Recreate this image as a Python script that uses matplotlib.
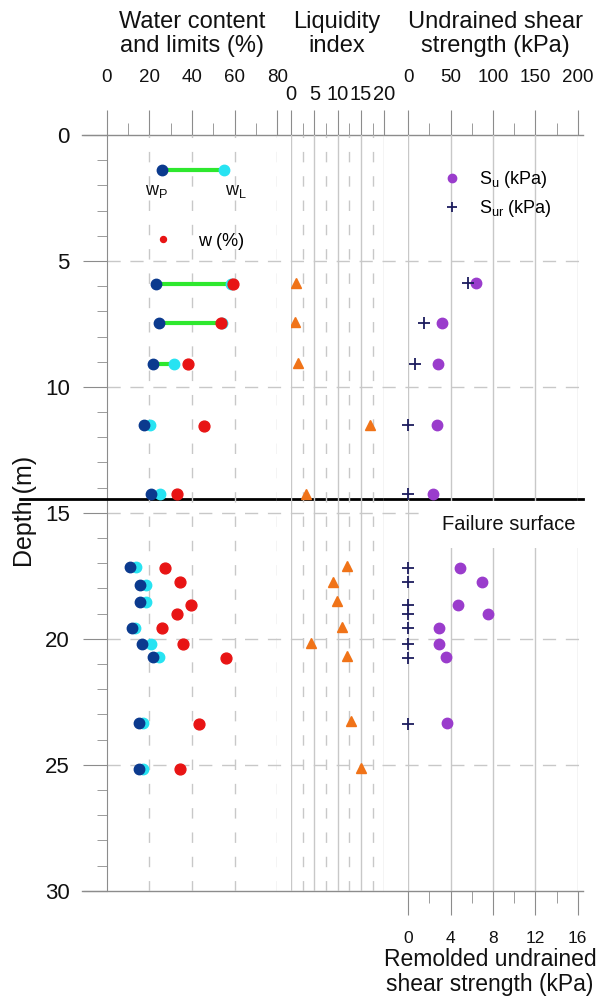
import matplotlib.pyplot as plt
import numpy as np

plt.rcParams['font.family'] = ['Liberation Sans', 'DejaVu Sans']
plt.rcParams['mathtext.fontset'] = 'custom'
plt.rcParams['mathtext.rm'] = 'Liberation Sans'
plt.rcParams['mathtext.it'] = 'Liberation Sans:italic'

# Atterberg limits (%) and their depths (m)
lim_depth = [5.9, 7.45, 9.1, 11.5, 14.25, 17.14, 17.85, 18.55, 19.56, 20.2, 20.72, 23.35, 25.18]
wp = [23.1, 24.4, 21.9, 17.6, 20.8, 10.9, 15.6, 15.6, 12.0, 16.4, 21.9, 15.0, 15.1]
wl = [58.5, 54.1, 31.6, 20.3, 25.0, 13.6, 18.3, 18.4, 13.3, 20.6, 24.7, 17.2, 17.2]

# natural water content (%)
w_depth = [5.93, 7.47, 9.1, 11.55, 14.25, 17.18, 17.76, 18.67, 19.03, 19.56, 20.21, 20.75, 23.37, 25.18]
w = [59.1, 53.5, 38.3, 45.8, 33.1, 27.3, 34.2, 39.4, 33.0, 25.8, 35.8, 55.9, 43.3, 34.4]

# liquidity index
li_depth = [5.86, 7.41, 9.06, 11.51, 14.25, 17.1, 17.74, 18.49, 19.52, 20.16, 20.68, 23.27, 25.14]
li = [1.0, 0.8, 1.6, 16.9, 3.2, 11.9, 8.9, 9.9, 10.9, 4.3, 11.9, 12.9, 14.9]

# undrained shear strength (kPa)
su_depth = [5.88, 7.45, 9.1, 11.51, 14.25, 17.18, 17.76, 18.67, 19.03, 19.56, 20.21, 20.71, 23.34]
su = [79.9, 40.1, 34.7, 34.2, 29.5, 61.0, 87.4, 59.0, 93.7, 36.6, 36.2, 44.2, 46.0]

# remolded undrained shear strength (kPa)
sur_depth = [5.88, 7.45, 9.1, 11.51, 14.25, 17.18, 17.76, 18.67, 19.03, 19.56, 20.21, 20.75, 23.37]
sur = [5.6, 1.5, 0.6, 0, 0, 0, 0, 0, 0, 0, 0, 0, 0]

failure_depth = 14.45

# key for the wP - wL symbol
key_depth = 1.39
key_wp = 25.8
key_wl = 55.0

GREEN = '#2ee82e'
NAVY = '#0b3a8e'
CYAN = '#27e3f2'
RED = '#e81414'
ORANGE = '#f07318'
PURPLE = '#9a3ccc'
CROSS = '#1c1c5e'
GRID = '#c8c8c8'
TICK = '#8c8c8c'
TXT = '#111111'

W, H = 615, 999
fig = plt.figure(figsize=(W / 100, H / 100), dpi=100)


def box(x0, x1, y0=135, y1=890.7):
    return [x0 / W, 1 - y1 / H, (x1 - x0) / W, (y1 - y0) / H]


def strip(ax):
    for s in ax.spines.values():
        s.set_visible(False)
    ax.set_ylim(30, 0)
    ax.set_facecolor('none')


def top_ticks(ax, major, minor, pad, size=13.5):
    ax.set_xticks(major)
    ax.set_xticks(minor, minor=True)
    ax.set_yticks([])
    ax.xaxis.tick_top()
    ax.tick_params(axis='x', which='both', top=True, bottom=False, labeltop=True,
                   labelbottom=False, color=TICK, labelcolor=TXT)
    ax.tick_params(axis='x', which='major', length=18, pad=pad, labelsize=size)
    ax.tick_params(axis='x', which='minor', length=9)


# background axes: depth axis and horizontal grid
axb = fig.add_axes(box(106.7, 577.7))
strip(axb)
axb.spines['left'].set_visible(True)
axb.spines['left'].set_color(TICK)
axb.set_xlim(0, 1)
axb.set_xticks([])
axb.set_yticks(np.arange(0, 31, 5))
axb.set_yticks(np.arange(0, 31, 1), minor=True)
axb.tick_params(axis='y', which='major', length=17.5, color=TICK, labelsize=16, pad=9, labelcolor=TXT)
axb.tick_params(axis='y', which='minor', length=7.2, color=TICK)
for d in [5, 10, 15, 20, 25]:
    axb.axhline(d, xmax=1.011, color=GRID, lw=1, dashes=(9.5, 7), clip_on=False)
tr = axb.get_yaxis_transform()
for d in [0, 30]:
    axb.plot([-0.0516, 1.0106], [d, d], transform=tr, color=TICK, lw=1, clip_on=False)
axb.plot([-0.184, 1.0106], [failure_depth, failure_depth], transform=tr,
         color='black', lw=2, clip_on=False, zorder=10)

# water content and limits
ax1 = fig.add_axes(box(106.7, 277.3))
strip(ax1)
ax1.set_xlim(0, 80)
top_ticks(ax1, [0, 20, 40, 60, 80], [10, 30, 50, 70], 17)
for x in [20, 40, 60, 80]:
    ax1.axvline(x, color=GRID, lw=1, dashes=(7.5, 10))

for a, b, d in zip(wp, wl, lim_depth):
    ax1.plot([a, b], [d, d], color=GREEN, lw=3, solid_capstyle='butt', zorder=2)
ax1.plot(wl, lim_depth, 'o', color=CYAN, ms=7.5, zorder=3)
ax1.plot(wp, lim_depth, 'o', color=NAVY, ms=7.5, zorder=4)
h_w, = ax1.plot(w, w_depth, 'o', color=RED, ms=7.8, zorder=5, label='w (%)')

ax1.plot([key_wp, key_wl], [key_depth, key_depth], color=GREEN, lw=3, solid_capstyle='butt')
ax1.plot(key_wp, key_depth, 'o', color=NAVY, ms=7.5)
ax1.plot(key_wl, key_depth, 'o', color=CYAN, ms=7.5)
ax1.text(key_wp - 2.5, key_depth + 0.85, r'w$_\mathrm{P}$', ha='center', va='center', fontsize=13, color=TXT)
ax1.text(key_wl + 5.6, key_depth + 0.85, r'w$_\mathrm{L}$', ha='center', va='center', fontsize=13, color=TXT)
ax1.legend(handles=[h_w], loc='center left', bbox_to_anchor=(154.3 / W, 1 - 241 / H),
           bbox_transform=fig.transFigure, frameon=False, markerscale=0.55, fontsize=13,
           handlelength=1.0, handletextpad=1.43, borderpad=0, borderaxespad=0)

# liquidity index
ax2 = fig.add_axes(box(291, 384.3))
strip(ax2)
ax2.set_xlim(0, 20)
top_ticks(ax2, [0, 5, 10, 15, 20], [2.5, 7.5, 12.5, 17.5], 4, size=14.5)
for x in [0, 5, 10, 15, 20]:
    ax2.axvline(x, color=GRID, lw=1)
for x in [2.5, 7.5, 12.5, 17.5]:
    ax2.axvline(x, color=GRID, lw=1, dashes=(7.5, 10))
ax2.plot(li, li_depth, '^', color=ORANGE, ms=7.5, zorder=3)

# undrained shear strength
ax3 = fig.add_axes(box(408.3, 577.7))
strip(ax3)
ax3.set_xlim(0, 200)
for x in [0, 50, 100, 150, 200]:
    ax3.axvline(x, color=GRID, lw=1)
h_su, = ax3.plot(su, su_depth, 'o', color=PURPLE, ms=7.5, zorder=3, label=r'S$_\mathrm{u}$ (kPa)')
ax3.text(197, 15.45, 'Failure surface', ha='right', va='center', fontsize=14.5, color=TXT,
         bbox=dict(facecolor='white', edgecolor='none', boxstyle='square,pad=0.7'), zorder=6)

# remolded strength on the bottom axis
ax3b = ax3.twiny()
strip(ax3b)
top_ticks(ax3, [0, 50, 100, 150, 200], [25, 75, 125, 175], 17)
ax3b.set_xlim(0, 16)
ax3b.set_xticks([0, 4, 8, 12, 16])
ax3b.set_xticks([2, 6, 10, 14], minor=True)
ax3b.xaxis.tick_bottom()
ax3b.tick_params(axis='x', which='both', top=False, bottom=True, labeltop=False,
                 labelbottom=True, color=TICK, labelcolor=TXT)
ax3b.tick_params(axis='x', which='major', length=17, pad=12, labelsize=12.5)
ax3b.tick_params(axis='x', which='minor', length=8.5)
h_sur, = ax3b.plot(sur, sur_depth, '+', color=CROSS, ms=8.5, mew=1.3, zorder=3, clip_on=False,
                   label=r'S$_\mathrm{ur}$ (kPa)')
ax3b.legend(handles=[h_su, h_sur], loc='upper left', bbox_to_anchor=(442.7 / W, 1 - 169 / H),
            bbox_transform=fig.transFigure, frameon=False, markerscale=0.8, fontsize=13,
            handlelength=1.0, handletextpad=1.0, labelspacing=0.45, borderpad=0, borderaxespad=0)

# titles
fig.text(192 / W, 1 - 34 / H, 'Water content\nand limits (%)', ha='center', va='center',
         fontsize=17, linespacing=1.15, color=TXT)
fig.text(337 / W, 1 - 34 / H, 'Liquidity\nindex', ha='center', va='center',
         fontsize=17, linespacing=1.15, color=TXT)
fig.text(495 / W, 1 - 34 / H, 'Undrained shear\nstrength (kPa)', ha='center', va='center',
         fontsize=17, linespacing=1.15, color=TXT)
fig.text(490 / W, 1 - 972 / H, 'Remolded undrained\nshear strength (kPa)', ha='center', va='center',
         fontsize=16.5, linespacing=1.1, color=TXT)
fig.text(25 / W, 1 - 511 / H, 'Depth (m)', rotation=90, ha='center', va='center',
         fontsize=18, color=TXT)

fig.savefig('out.png', dpi=100)
